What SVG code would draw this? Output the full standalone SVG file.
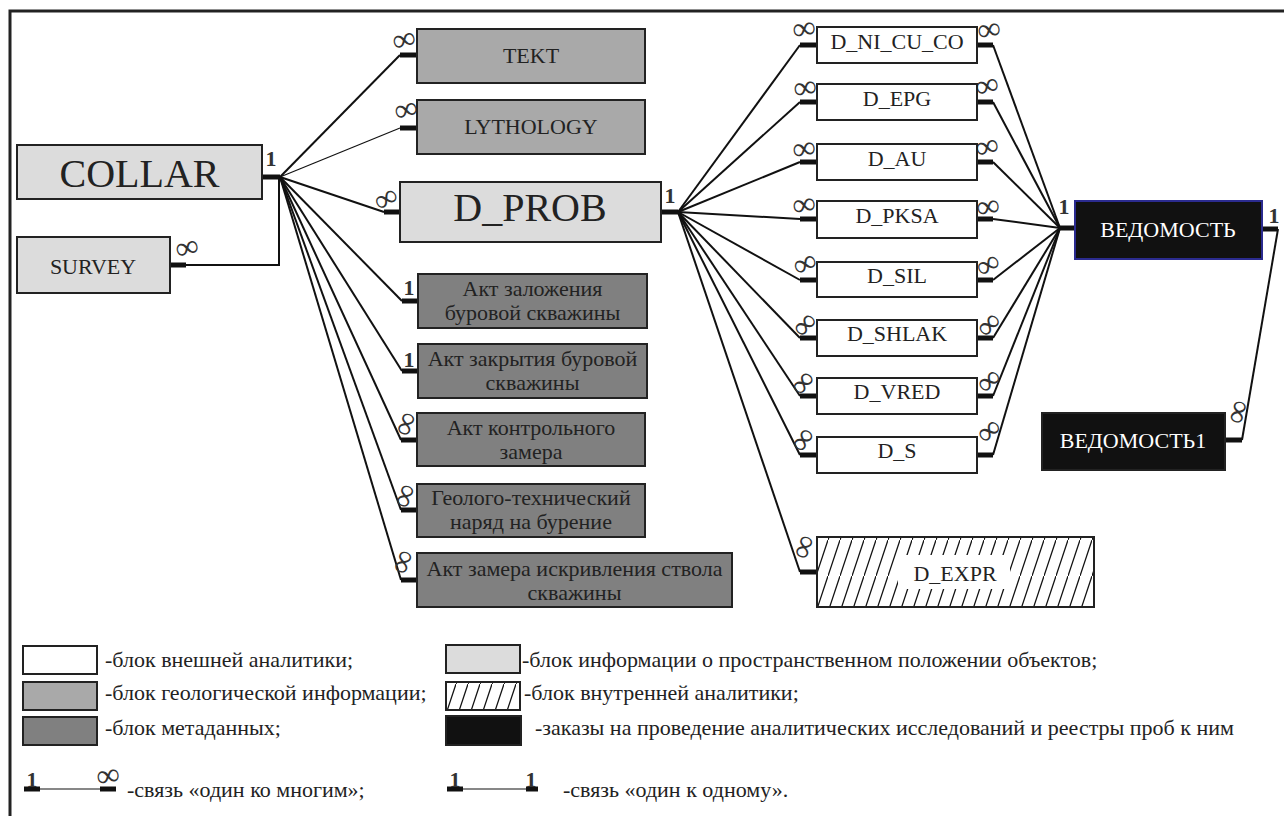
<svg xmlns="http://www.w3.org/2000/svg" width="1284" height="816" viewBox="0 0 1284 816">
<defs>
<style>
text{font-family:'Liberation Serif','Times New Roman',serif}
.t{fill:#222;text-anchor:middle}
.big{font-size:40px}
.mid{font-size:22px}
.lg{font-size:22px;text-anchor:start}
.one{font-size:22px;font-weight:bold;fill:#333;text-anchor:middle}
.inf{font-size:32px;font-weight:bold;fill:#333;text-anchor:middle}
.box{stroke:#222;stroke-width:2}
.lt{fill:#dcdcdc}
.geo{fill:#a9a9a9}
.meta{fill:#808080}
.wh{fill:#fff}
.blk{fill:#111}
.c{stroke:#111;stroke-width:2;fill:none}
.thin{stroke:#111;stroke-width:1.2;fill:none}
.s{stroke:#111;stroke-width:5}
.frame{stroke:#222;stroke-width:3;fill:none}
</style>
<pattern id="hatch" width="12" height="36" patternUnits="userSpaceOnUse">
<rect width="12" height="36" fill="#fff"/>
<line x1="-0.5" y1="37.5" x2="12.5" y2="-1.5" stroke="#111" stroke-width="1.3"/>
</pattern>
</defs>
<rect width="1284" height="816" fill="#fff"/>
<path class="frame" d="M10,816 V11 H1284"/>

<g id="connectors">
<line class="s" x1="262" y1="177" x2="280" y2="177"/>
<line class="s" x1="170" y1="265" x2="186" y2="265"/>
<path class="c" d="M186,265 H279 V177"/>
<line class="c" x1="280" y1="177" x2="400" y2="55"/>
<line class="thin" x1="280" y1="177" x2="400" y2="128"/>
<line class="c" x1="280" y1="177" x2="384" y2="212"/>
<line class="c" x1="280" y1="177" x2="402" y2="301"/>
<line class="c" x1="280" y1="177" x2="402" y2="371"/>
<line class="c" x1="280" y1="177" x2="401" y2="440"/>
<line class="c" x1="280" y1="177" x2="401" y2="510"/>
<line class="c" x1="280" y1="177" x2="401" y2="580"/>
<line class="s" x1="400" y1="55" x2="417" y2="55"/>
<line class="s" x1="400" y1="128" x2="417" y2="128"/>
<line class="s" x1="384" y1="212" x2="400" y2="212"/>
<line class="s" x1="402" y1="301" x2="418" y2="301"/>
<line class="s" x1="402" y1="371" x2="418" y2="371"/>
<line class="s" x1="401" y1="440" x2="417" y2="440"/>
<line class="s" x1="401" y1="510" x2="417" y2="510"/>
<line class="s" x1="401" y1="580" x2="417" y2="580"/>
<line class="s" x1="661" y1="212" x2="678" y2="212"/>
<line class="c" x1="678" y1="212" x2="800" y2="45"/>
<line class="c" x1="678" y1="212" x2="800" y2="102"/>
<line class="c" x1="678" y1="212" x2="800" y2="162"/>
<line class="c" x1="678" y1="212" x2="800" y2="219"/>
<line class="c" x1="678" y1="212" x2="800" y2="280"/>
<line class="c" x1="678" y1="212" x2="800" y2="338"/>
<line class="c" x1="678" y1="212" x2="800" y2="396"/>
<line class="c" x1="678" y1="212" x2="800" y2="455"/>
<line class="c" x1="678" y1="212" x2="800" y2="572"/>
<g class="s">
<line x1="800" y1="45" x2="817" y2="45"/><line x1="800" y1="102" x2="817" y2="102"/>
<line x1="800" y1="162" x2="817" y2="162"/><line x1="800" y1="219" x2="817" y2="219"/>
<line x1="800" y1="280" x2="817" y2="280"/><line x1="800" y1="338" x2="817" y2="338"/>
<line x1="800" y1="396" x2="817" y2="396"/><line x1="800" y1="455" x2="817" y2="455"/>
<line x1="800" y1="572" x2="817" y2="572"/>
<line x1="977" y1="45" x2="993" y2="45"/><line x1="977" y1="102" x2="993" y2="102"/>
<line x1="977" y1="162" x2="993" y2="162"/><line x1="977" y1="219" x2="993" y2="219"/>
<line x1="977" y1="280" x2="993" y2="280"/><line x1="977" y1="338" x2="993" y2="338"/>
<line x1="977" y1="396" x2="993" y2="396"/><line x1="977" y1="455" x2="993" y2="455"/>
</g>
<line class="c" x1="993" y1="45" x2="1060" y2="228"/>
<line class="c" x1="993" y1="102" x2="1060" y2="228"/>
<line class="c" x1="993" y1="162" x2="1060" y2="228"/>
<line class="c" x1="993" y1="219" x2="1060" y2="228"/>
<line class="c" x1="993" y1="280" x2="1060" y2="228"/>
<line class="c" x1="993" y1="338" x2="1060" y2="228"/>
<line class="c" x1="993" y1="396" x2="1060" y2="228"/>
<line class="c" x1="993" y1="455" x2="1060" y2="228"/>
<line class="s" x1="1058" y1="228" x2="1075" y2="228"/>
<line class="s" x1="1262" y1="229" x2="1278" y2="229"/>
<line class="c" x1="1278" y1="229" x2="1242" y2="440"/>
<line class="s" x1="1225" y1="440" x2="1242" y2="440"/>

<text class="one" x="271" y="166">1</text>
<text class="inf" x="187" y="248" dy="0.3em" transform="rotate(-15 187 248)">∞</text>
<text class="inf" x="404" y="40" dy="0.3em" transform="rotate(-15 404 40)">∞</text>
<text class="inf" x="406" y="110" dy="0.3em" transform="rotate(-15 406 110)">∞</text>
<text class="inf" x="386" y="199" dy="0.3em" transform="rotate(-30 386 199)">∞</text>
<text class="one" x="409" y="295">1</text>
<text class="one" x="409" y="367">1</text>
<text class="inf" x="406" y="424" dy="0.3em" transform="rotate(-70 406 424)">∞</text>
<text class="inf" x="405" y="496" dy="0.3em" transform="rotate(-70 405 496)">∞</text>
<text class="inf" x="403" y="562" dy="0.3em" transform="rotate(-70 403 562)">∞</text>
<text class="one" x="670" y="203">1</text>
<text class="inf" x="804" y="29" dy="0.3em" transform="rotate(-10 804 29)">∞</text>
<text class="inf" x="805" y="88" dy="0.3em" transform="rotate(-10 805 88)">∞</text>
<text class="inf" x="804" y="149" dy="0.3em" transform="rotate(-10 804 149)">∞</text>
<text class="inf" x="804" y="205" dy="0.3em" transform="rotate(-10 804 205)">∞</text>
<text class="inf" x="805" y="264" dy="0.3em" transform="rotate(-25 805 264)">∞</text>
<text class="inf" x="805" y="325" dy="0.3em" transform="rotate(-45 805 325)">∞</text>
<text class="inf" x="803" y="383" dy="0.3em" transform="rotate(-50 803 383)">∞</text>
<text class="inf" x="803" y="440" dy="0.3em" transform="rotate(-55 803 440)">∞</text>
<text class="inf" x="804" y="547" dy="0.3em" transform="rotate(-70 804 547)">∞</text>
<text class="inf" x="989" y="30" dy="0.3em" transform="rotate(-10 989 30)">∞</text>
<text class="inf" x="987" y="86" dy="0.3em" transform="rotate(-15 987 86)">∞</text>
<text class="inf" x="987" y="147" dy="0.3em" transform="rotate(-15 987 147)">∞</text>
<text class="inf" x="988" y="207" dy="0.3em" transform="rotate(-10 988 207)">∞</text>
<text class="inf" x="988" y="265" dy="0.3em" transform="rotate(-30 988 265)">∞</text>
<text class="inf" x="989" y="325" dy="0.3em" transform="rotate(-45 989 325)">∞</text>
<text class="inf" x="989" y="381" dy="0.3em" transform="rotate(-40 989 381)">∞</text>
<text class="inf" x="989" y="431" dy="0.3em" transform="rotate(-40 989 431)">∞</text>
<text class="one" x="1064" y="214">1</text>
<text class="one" x="1274" y="223">1</text>
<text class="inf" x="1238" y="412" dy="0.3em" transform="rotate(-75 1238 412)">∞</text>
</g>

<g id="collar"><rect class="box lt" x="17" y="145" width="245" height="54"/><text class="t big" x="139.5" y="187">COLLAR</text></g>
<g id="survey"><rect class="box lt" x="17" y="237" width="153" height="56"/><text class="t mid" x="93" y="274">SURVEY</text></g>
<g id="tekt"><rect class="box geo" x="417" y="29" width="228" height="54"/><text class="t mid" x="531" y="63">TEKT</text></g>
<g id="lythology"><rect class="box geo" x="417" y="100" width="228" height="54"/><text class="t mid" x="531" y="134">LYTHOLOGY</text></g>
<g id="d_prob"><rect class="box lt" x="400" y="182" width="261" height="60"/><text class="t big" x="530" y="221">D_PROB</text></g>
<g id="akt1"><rect class="box meta" x="418" y="274" width="229" height="54"/><text class="t mid" x="532.5" y="296">Акт заложения</text><text class="t mid" x="532.5" y="320">буровой скважины</text></g>
<g id="akt2"><rect class="box meta" x="418" y="344" width="229" height="54"/><text class="t mid" x="532.5" y="366">Акт закрытия буровой</text><text class="t mid" x="532.5" y="390">скважины</text></g>
<g id="akt3"><rect class="box meta" x="417" y="413" width="228" height="53"/><text class="t mid" x="531" y="435">Акт контрольного</text><text class="t mid" x="531" y="459">замера</text></g>
<g id="ggt"><rect class="box meta" x="417" y="484" width="228" height="53"/><text class="t mid" x="531" y="505">Геолого-технический</text><text class="t mid" x="531" y="529">наряд на бурение</text></g>
<g id="akt5"><rect class="box meta" x="417" y="553" width="315" height="54"/><text class="t mid" x="574.5" y="576">Акт замера искривления ствола</text><text class="t mid" x="574.5" y="600">скважины</text></g>

<g id="d_ni_cu_co"><rect class="box wh" x="817" y="27" width="160" height="36"/><text class="t mid" x="897" y="49">D_NI_CU_CO</text></g>
<g id="d_epg"><rect class="box wh" x="817" y="84" width="160" height="36"/><text class="t mid" x="897" y="106">D_EPG</text></g>
<g id="d_au"><rect class="box wh" x="817" y="144" width="160" height="36"/><text class="t mid" x="897" y="166">D_AU</text></g>
<g id="d_pksa"><rect class="box wh" x="817" y="201" width="160" height="37"/><text class="t mid" x="897" y="223">D_PKSA</text></g>
<g id="d_sil"><rect class="box wh" x="817" y="262" width="160" height="35"/><text class="t mid" x="897" y="283">D_SIL</text></g>
<g id="d_shlak"><rect class="box wh" x="817" y="320" width="160" height="36"/><text class="t mid" x="897" y="341">D_SHLAK</text></g>
<g id="d_vred"><rect class="box wh" x="817" y="378" width="160" height="36"/><text class="t mid" x="897" y="399">D_VRED</text></g>
<g id="d_s"><rect class="box wh" x="817" y="437" width="160" height="36"/><text class="t mid" x="897" y="458">D_S</text></g>
<g id="d_expr"><rect class="box" x="817" y="537" width="277" height="70" fill="url(#hatch)"/><rect x="898" y="555" width="112" height="34" fill="#fff"/><text class="t mid" x="955" y="581">D_EXPR</text></g>
<g id="vedomost"><rect x="1075" y="201" width="187" height="58" fill="#111" stroke="#2b2b8f" stroke-width="2"/><text class="t mid" x="1168" y="237" style="fill:#fff">ВЕДОМОСТЬ</text></g>
<g id="vedomost1"><rect class="box blk" x="1042" y="413" width="183" height="57"/><text class="t mid" x="1133" y="448" style="fill:#fff">ВЕДОМОСТЬ1</text></g>

<g id="legend">
<rect class="box wh" x="23" y="646" width="74" height="28"/>
<rect class="box geo" x="23" y="682" width="74" height="28"/>
<rect class="box meta" x="23" y="717" width="74" height="28"/>
<rect class="box lt" x="446" y="645" width="74" height="28"/>
<rect class="box" x="446" y="682" width="74" height="28" fill="url(#hatch)"/>
<rect class="box blk" x="446" y="716" width="75" height="29"/>
<text class="t lg" x="105" y="667">-блок внешней аналитики;</text>
<text class="t lg" x="105" y="700">-блок геологической информации;</text>
<text class="t lg" x="105" y="735">-блок метаданных;</text>
<text class="t lg" x="522" y="667">-блок информации о пространственном положении объектов;</text>
<text class="t lg" x="524" y="700">-блок внутренней аналитики;</text>
<text class="t lg" x="535" y="735">-заказы на проведение аналитических исследований и реестры проб к ним</text>
<line class="s" x1="24" y1="789" x2="40" y2="789"/>
<line class="thin" x1="40" y1="789" x2="100" y2="789"/>
<line class="s" x1="100" y1="789" x2="116" y2="789"/>
<text class="one" x="32" y="787">1</text>
<text class="inf" x="108" y="776" dy="0.3em" transform="rotate(-10 108 776)">∞</text>
<text class="t lg" x="127" y="797">-связь «один ко многим»;</text>
<line class="s" x1="447" y1="789" x2="463" y2="789"/>
<line class="thin" x1="463" y1="789" x2="526" y2="789"/>
<line class="s" x1="526" y1="789" x2="538" y2="789"/>
<text class="one" x="455" y="787">1</text>
<text class="one" x="531" y="787">1</text>
<text class="t lg" x="563" y="797">-связь «один к одному».</text>
</g>
</svg>
